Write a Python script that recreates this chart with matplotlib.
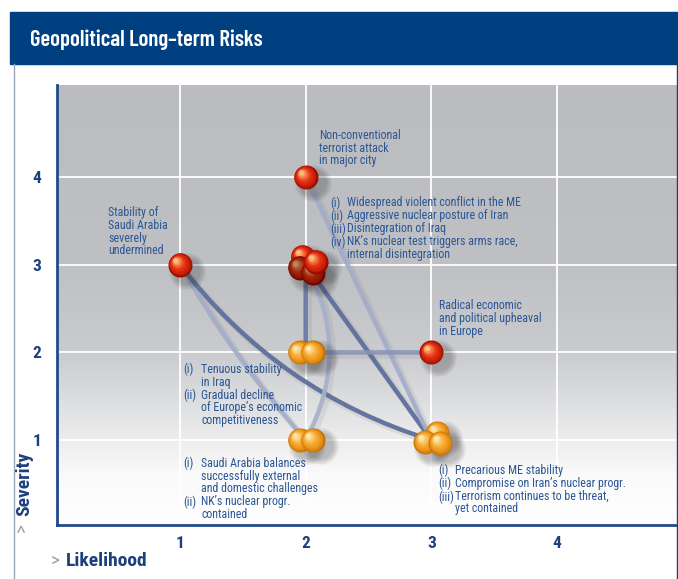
import matplotlib
matplotlib.use("Agg")
import matplotlib.pyplot as plt
import numpy as np
from matplotlib import font_manager
from matplotlib.transforms import offset_copy
from matplotlib.patches import FancyArrowPatch, Rectangle
from matplotlib.lines import Line2D

# ---------------- data ----------------
risk_likelihood = [2, 1, 2, 3, 2, 2, 3]
risk_severity = [4, 3, 3, 2, 2, 1, 1]
risk_level = ["high", "high", "high", "high", "medium", "medium", "medium"]
scenario_count = [1, 1, 4, 1, 2, 2, 3]
risk_labels = [
    "Non-conventional\nterrorist attack\nin major city",
    "Stability of\nSaudi Arabia\nseverely\nundermined",
    ["(i)|Widespread violent conflict in the ME",
     "(ii)|Aggressive nuclear posture of Iran",
     "(iii)|Disintegration of Iraq",
     "(iv)|NK\u2019s nuclear test triggers arms race,",
     "|internal disintegration"],
    "Radical economic\nand political upheaval\nin Europe",
    ["(i)|Tenuous stability", "|in Iraq", "(ii)|Gradual decline",
     "|of Europe\u2019s economic", "|competitiveness"],
    ["(i)|Saudi Arabia balances", "|successfully external",
     "|and domestic challenges", "(ii)|NK\u2019s nuclear progr.", "|contained"],
    ["(i)|Precarious ME stability", "(ii)|Compromise on Iran\u2019s nuclear progr.",
     "(iii)|Terrorism continues to be threat,", "|yet contained"],
]
links_from = [1, 1, 2, 2, 2, 0, 4]
links_to = [5, 6, 4, 6, 5, 6, 3]
x_ticks = [1, 2, 3, 4]
y_ticks = [1, 2, 3, 4]
title = "Geopolitical Long\u2013term Risks"
x_label = "Likelihood"
y_label = "Severity"

# ---------------- styles ----------------
def pick_font(names):
    for n in names:
        try:
            font_manager.findfont(font_manager.FontProperties(family=n), fallback_to_default=False)
            return n
        except Exception:
            pass
    return "DejaVu Sans"

FONT = pick_font(["Liberation Sans Narrow", "Roboto Condensed", "Archivo Narrow",
                  "PT Sans Narrow", "Asap Condensed", "Liberation Sans"])
TFONT = pick_font(["Barlow Condensed", "Roboto Condensed", "Archivo Narrow", FONT])
plt.rcParams["font.family"] = [FONT, "DejaVu Sans"]

W, H, DPI = 678, 579, 100
NAVY = "#004080"
DARKBLUE = "#1d3f7c"
TXT = "#2a5694"

fig = plt.figure(figsize=(W / DPI, H / DPI), dpi=DPI)
fig.patch.set_facecolor("white")

# title bar
fig.patches.append(Rectangle((10 / W, 1 - 64 / H), 668 / W, 52 / H,
                             transform=fig.transFigure, color=NAVY, zorder=0))
fig.text(30 / W, 1 - 46 / H, title, color="white", fontsize=16.3, family=[TFONT, "DejaVu Sans"],
         fontweight="semibold", va="baseline", ha="left")
fig.lines.append(Line2D([13.5 / W, 13.5 / W], [0, 1 - 64 / H], transform=fig.transFigure,
                        color="#9aa6bd", lw=1))
fig.lines.append(Line2D([677 / W, 677 / W], [0, 1 - 64 / H], transform=fig.transFigure,
                        color="#1d3f6c", lw=1))

ax = fig.add_axes([57 / W, 1 - 525 / H, (W - 57) / W, (525 - 85) / H])
xlim = (0.021, 4.963)
ylim = (0.031, 5.05)
ax.set_xlim(*xlim)
ax.set_ylim(*ylim)

# gradient background
ys = np.linspace(ylim[0], ylim[1], 400)
stops_y = [0.0, 0.6, 1.0, 1.5, 2.0, 3.0, 5.1]
stops_c = np.array([[255, 255, 255], [250, 250, 250], [237, 237, 238], [219, 220, 222],
                    [202, 203, 206], [191, 192, 196], [187, 188, 192]]) / 255.0
col = np.stack([np.interp(ys, stops_y, stops_c[:, k]) for k in range(3)], axis=1)
img = np.repeat(col[:, None, :], 2, axis=1)
ax.imshow(img, extent=[xlim[0], xlim[1], ylim[0], ylim[1]], origin="lower",
          aspect="auto", zorder=0, interpolation="bilinear")

for v in x_ticks:
    ax.axvline(v, color="white", lw=1.3, zorder=1)
for v in y_ticks:
    ax.axhline(v, color="white", lw=1.3, zorder=1)

for s in ["top", "right"]:
    ax.spines[s].set_visible(False)
for s in ["left", "bottom"]:
    ax.spines[s].set_color("#1f4b8a")
    ax.spines[s].set_linewidth(2)
    ax.spines[s].set_zorder(6)

ax.set_xticks(x_ticks)
ax.set_yticks(y_ticks)
ax.tick_params(length=0, labelsize=12.5, labelcolor=DARKBLUE, pad=8)
ax.tick_params(axis="y", pad=11)
for lab in ax.get_xticklabels() + ax.get_yticklabels():
    lab.set_fontweight("bold")

# axis titles
fig.text(51 / W, 1 - 562 / H, ">", color="#a0a0a0", fontsize=14,
         va="center", ha="left")
fig.text(66 / W, 1 - 561 / H, x_label, color=DARKBLUE, fontsize=14, fontweight="bold",
         va="center", ha="left")
fig.text(23 / W, 1 - 527 / H, ">", color="#a0a0a0", fontsize=14,
         va="center", ha="center", rotation=90)
fig.text(24 / W, 1 - 516 / H, y_label, color=DARKBLUE, fontsize=14, fontweight="bold",
         va="bottom", ha="center", rotation=90)

# links
link_style = [("#a3accb", 0.9, 0.05), ("#5e6f9c", 0.95, 0.16), ("#6575a0", 0.9, 0.0),
              ("#5e6f9c", 0.95, 0.0), ("#a7b0cc", 0.9, -0.27), ("#a3accb", 0.9, 0.0),
              ("#8793b7", 0.9, 0.0)]
for (a, b), (c, al, rad) in zip(zip(links_from, links_to), link_style):
    p0 = (risk_likelihood[a], risk_severity[a])
    p1 = (risk_likelihood[b], risk_severity[b])
    for dx, dy, cc, aa, lw in [(3, -3, "#707070", 0.12, 5), (0, 0, c, al, 3.2)]:
        tr = offset_copy(ax.transData, fig=fig, x=dx, y=dy, units="dots")
        pa = FancyArrowPatch(p0, p1, arrowstyle="-", connectionstyle=f"arc3,rad={rad}",
                             color=cc, alpha=aa, lw=lw, shrinkA=0, shrinkB=0,
                             transform=tr, zorder=2)
        ax.add_patch(pa)

# spheres
cluster_offsets = {
    1: [(0, 0)],
    2: [(-6, 0), (7, 0)],
    3: [(6, 7), (-6, -2), (9, -3)],
    4: [(-3, 8), (-6, -3), (7, -8), (10, 3)],
}
palettes = {
    "high": [np.array([150, 10, 0]), np.array([228, 45, 15]), np.array([255, 195, 125])],
    "medium": [np.array([200, 110, 0]), np.array([245, 165, 40]), np.array([255, 232, 175])],
}
R = 12.0  # px radius


def sphere(x, y, dx, dy, level, z, dark=False):
    pal = palettes[level]
    for k in range(7):
        tr = offset_copy(ax.transData, fig=fig, x=dx + 7, y=dy - 6, units="dots")
        rr = R * (1.55 - 0.08 * k)
        ax.scatter([x], [y], s=(2 * rr * 72 / DPI) ** 2, color="#303030", alpha=0.045,
                   linewidths=0, transform=tr, zorder=3)
    n = 14
    for i in range(n):
        t = i / (n - 1)
        rr = R * (1 - 0.82 * t)
        ox = -0.38 * R * t
        oy = 0.38 * R * t
        if t < 0.45:
            c = pal[0] + (pal[1] - pal[0]) * (t / 0.45) ** 0.6
        else:
            c = pal[1] + (pal[2] - pal[1]) * ((t - 0.45) / 0.55) ** 1.3
        if dark:
            c = c * 0.72
        tr = offset_copy(ax.transData, fig=fig, x=dx + ox, y=dy + oy, units="dots")
        ax.scatter([x], [y], s=(2 * rr * 72 / DPI) ** 2, color=np.clip(c / 255, 0, 1),
                   linewidths=0, transform=tr, zorder=z)


for i, (x, y, lv, cnt) in enumerate(zip(risk_likelihood, risk_severity, risk_level, scenario_count)):
    offs = cluster_offsets[cnt]
    for j, (dx, dy) in enumerate(offs):
        dark = (cnt == 4 and j in (1, 2))
        sphere(x, y, dx, dy, lv, 4 + j * 0.01, dark=dark)

# annotations
label_pos = [(2.107, 4.55), (0.428, 3.67), (2.194, 3.78), (3.061, 2.61),
             (1.024, 1.88), (1.024, 0.81), (3.053, 0.73)]
label_indent = [0, 0, 0.135, 0, 0.143, 0.143, 0.135]
FS = 8.6
for lab, (lx, ly), ind in zip(risk_labels, label_pos, label_indent):
    if isinstance(lab, str):
        ax.text(lx, ly, lab, color=TXT, fontsize=FS, va="top", ha="left",
                linespacing=0.98, zorder=7)
    else:
        left = "\n".join(s.split("|")[0] if s.split("|")[0] else " " for s in lab)
        right = "\n".join(s.split("|")[1] for s in lab)
        ax.text(lx, ly, left, color=TXT, fontsize=FS, va="top", ha="left",
                linespacing=0.98, zorder=7)
        ax.text(lx + ind, ly, right, color=TXT, fontsize=FS, va="top", ha="left",
                linespacing=0.98, zorder=7)

fig.savefig("out.png", dpi=DPI)
